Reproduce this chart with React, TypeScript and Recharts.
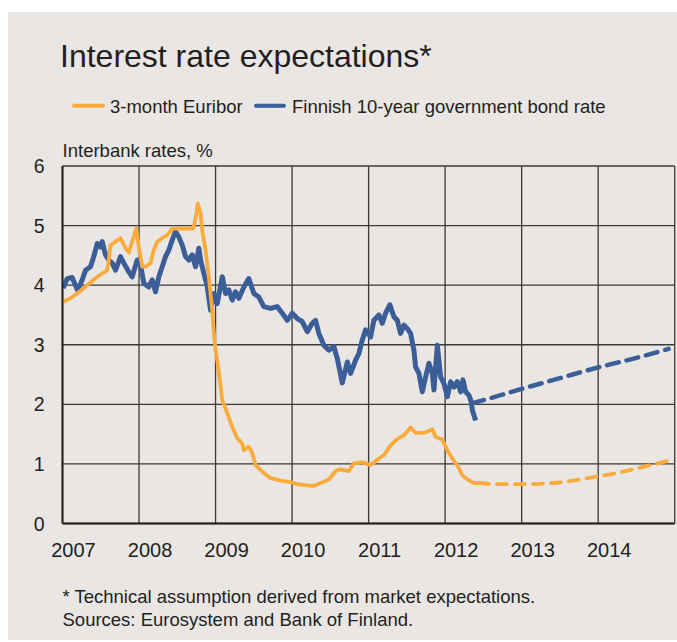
import { LineChart, Line, XAxis, YAxis, CartesianGrid } from "recharts";

const FONT = "'Liberation Sans', Arial, Helvetica, sans-serif";
const INK = "#231f20";
const BG = "#e9e6e3";
const GRID = "#3a3a3a";
const ORANGE = "#fbab3b";
const BLUE = "#3b5e98";

const W = 669;
const H = 628;

// x axis: decimal years, y axis: %
const yearTicks = [2007, 2008, 2009, 2010, 2011, 2012, 2013, 2014, 2015];
const yearLabels = ["2007", "2008", "2009", "2010", "2011", "2012", "2013", "2014"];
const rateTicks = [0, 1, 2, 3, 4, 5, 6];

// 3-month Euribor, actual
const euriborDates = [
  2007.009, 2007.105, 2007.192, 2007.323, 2007.454, 2007.584, 2007.605, 2007.627, 2007.693, 2007.758,
  2007.824, 2007.867, 2007.911, 2007.963, 2007.997, 2008.042, 2008.085, 2008.15, 2008.193, 2008.238,
  2008.303, 2008.369, 2008.434, 2008.542, 2008.63, 2008.708, 2008.739, 2008.769, 2008.804, 2008.826,
  2008.869, 2008.912, 2008.957, 2008.978, 2009.0, 2009.022, 2009.056, 2009.088, 2009.153, 2009.218,
  2009.284, 2009.349, 2009.37, 2009.435, 2009.48, 2009.523, 2009.61, 2009.719, 2009.85, 2009.958,
  2010.068, 2010.199, 2010.285, 2010.373, 2010.481, 2010.569, 2010.634, 2010.742, 2010.808, 2010.918,
  2011.026, 2011.114, 2011.2, 2011.288, 2011.375, 2011.461, 2011.549, 2011.614, 2011.723, 2011.833,
  2011.876, 2011.963, 2012.029, 2012.094, 2012.159, 2012.225, 2012.29, 2012.376, 2012.442,
];
const euriborRates = [
  3.72, 3.78, 3.86, 4.0, 4.14, 4.25, 4.42, 4.67, 4.73, 4.79,
  4.62, 4.55, 4.73, 4.95, 4.64, 4.31, 4.31, 4.37, 4.59, 4.73,
  4.79, 4.84, 4.95, 4.95, 4.95, 4.95, 5.12, 5.37, 5.21, 4.92,
  4.59, 4.14, 3.58, 3.2, 2.91, 2.74, 2.41, 2.07, 1.85, 1.62,
  1.43, 1.34, 1.23, 1.29, 1.18, 0.98, 0.87, 0.76, 0.72, 0.7,
  0.66, 0.64, 0.63, 0.68, 0.74, 0.88, 0.91, 0.88, 1.01, 1.03,
  0.98, 1.07, 1.15, 1.31, 1.42, 1.48, 1.61, 1.52, 1.52, 1.58,
  1.45, 1.41, 1.23, 1.09, 0.98, 0.81, 0.74, 0.68, 0.68,
];

// 3-month Euribor, market expectation
const euriborFcDates = [2012.442, 2012.7, 2013.009, 2013.422, 2013.859, 2014.251, 2014.686, 2014.908];
const euriborFcRates = [0.68, 0.66, 0.66, 0.68, 0.76, 0.85, 0.98, 1.05];

// Finnish 10-year government bond, actual
const bondDates = [
  2007.009, 2007.061, 2007.127, 2007.148, 2007.2, 2007.258, 2007.301, 2007.366, 2007.409, 2007.454,
  2007.497, 2007.519, 2007.562, 2007.605, 2007.65, 2007.693, 2007.758, 2007.801, 2007.854, 2007.911,
  2007.976, 2008.02, 2008.063, 2008.128, 2008.173, 2008.216, 2008.259, 2008.303, 2008.346, 2008.39,
  2008.434, 2008.477, 2008.52, 2008.565, 2008.608, 2008.651, 2008.695, 2008.739, 2008.782, 2008.804,
  2008.847, 2008.892, 2008.935, 2008.978, 2009.022, 2009.088, 2009.131, 2009.174, 2009.218, 2009.261,
  2009.305, 2009.37, 2009.435, 2009.501, 2009.566, 2009.631, 2009.719, 2009.806, 2009.872, 2009.937,
  2010.003, 2010.068, 2010.133, 2010.199, 2010.264, 2010.307, 2010.35, 2010.416, 2010.481, 2010.546,
  2010.591, 2010.656, 2010.722, 2010.765, 2010.83, 2010.873, 2010.918, 2010.961, 2011.026, 2011.069,
  2011.135, 2011.179, 2011.222, 2011.278, 2011.331, 2011.375, 2011.418, 2011.461, 2011.506, 2011.549,
  2011.592, 2011.614, 2011.658, 2011.702, 2011.745, 2011.788, 2011.833, 2011.854, 2011.898, 2011.941,
  2011.984, 2012.029, 2012.072, 2012.115, 2012.159, 2012.203, 2012.233, 2012.268, 2012.312, 2012.342,
  2012.356, 2012.399,
];
const bondRates = [
  3.95, 4.11, 4.13, 4.06, 3.91, 4.09, 4.25, 4.31, 4.48, 4.7,
  4.64, 4.73, 4.51, 4.42, 4.37, 4.25, 4.48, 4.37, 4.25, 4.14,
  4.42, 4.34, 4.03, 3.97, 4.09, 3.89, 4.14, 4.31, 4.48, 4.59,
  4.76, 4.9, 4.81, 4.67, 4.48, 4.42, 4.51, 4.31, 4.62, 4.42,
  4.2, 3.97, 3.58, 3.86, 3.69, 4.14, 3.86, 3.92, 3.75, 3.89,
  3.78, 3.97, 4.11, 3.86, 3.8, 3.64, 3.61, 3.64, 3.53, 3.41,
  3.53, 3.44, 3.39, 3.22, 3.36, 3.41, 3.19, 2.99, 2.91, 2.97,
  2.77, 2.36, 2.71, 2.52, 2.74, 2.85, 3.08, 3.25, 3.13, 3.41,
  3.5, 3.36, 3.53, 3.67, 3.47, 3.41, 3.19, 3.33, 3.27, 3.19,
  2.91, 2.63, 2.52, 2.21, 2.46, 2.69, 2.52, 2.24, 2.99, 2.46,
  2.35, 2.13, 2.38, 2.29, 2.38, 2.21, 2.41, 2.21, 2.15, 2.04,
  1.9, 1.73,
];

// Finnish 10-year government bond, market expectation
const bondFcDates = [2012.356, 2012.5, 2013.0, 2013.5, 2014.0, 2014.5, 2014.92];
const bondFcRates = [2.02, 2.07, 2.26, 2.44, 2.62, 2.78, 2.93];

const toPoints = (ts: number[], vs: number[]) => ts.map((t, i) => ({ t, v: vs[i] }));

const euribor = toPoints(euriborDates, euriborRates);
const euriborFc = toPoints(euriborFcDates, euriborFcRates);
const bond = toPoints(bondDates, bondRates);
const bondFc = toPoints(bondFcDates, bondFcRates);

function YearTick(props: any) {
  const { x, y, payload } = props;
  const i = yearTicks.indexOf(payload.value);
  const label = yearLabels[i];
  if (!label) return null;
  return (
    <text x={x + 11} y={y + 33.5} textAnchor="middle" fontSize={20} fontFamily={FONT} fill={INK}>
      {label}
    </text>
  );
}

function RateTick(props: any) {
  const { x, y, payload } = props;
  return (
    <text x={x - 18} y={y + 7} textAnchor="end" fontSize={19.5} fontFamily={FONT} fill={INK}>
      {payload.value}
    </text>
  );
}

export default function App() {
  return (
    <div
      style={{
        position: "absolute",
        left: 8,
        top: 12,
        width: W,
        height: H,
        background: BG,
        fontFamily: FONT,
      }}
    >
      <LineChart width={W} height={H} margin={{ top: 154, right: 2.3, bottom: 86.5, left: 0.5 }}>
        <CartesianGrid stroke={GRID} strokeWidth={1.3} />
        <XAxis
          dataKey="t"
          type="number"
          domain={[2007, 2015]}
          ticks={yearTicks}
          tick={<YearTick />}
          tickSize={0}
          tickMargin={0}
          tickLine={false}
          axisLine={{ stroke: "#222", strokeWidth: 2 }}
          height={30}
          allowDataOverflow
        />
        <YAxis
          type="number"
          domain={[0, 6]}
          ticks={rateTicks}
          tick={<RateTick />}
          tickSize={0}
          tickMargin={0}
          tickLine={false}
          axisLine={{ stroke: "#222", strokeWidth: 2 }}
          width={54}
        />
        <Line data={bond} dataKey="v" type="linear" stroke={BLUE} strokeWidth={5}
          strokeLinejoin="round" dot={false} isAnimationActive={false} />
        <Line data={bondFc} dataKey="v" type="monotone" stroke={BLUE} strokeWidth={4.5}
          strokeDasharray="12 8" strokeLinecap="round" dot={false} isAnimationActive={false} />
        <Line data={euribor} dataKey="v" type="linear" stroke={ORANGE} strokeWidth={3.8}
          strokeLinejoin="round" dot={false} isAnimationActive={false} />
        <Line data={euriborFc} dataKey="v" type="monotone" stroke={ORANGE} strokeWidth={3.8}
          strokeDasharray="10 8" strokeLinecap="round" dot={false} isAnimationActive={false} />
      </LineChart>

      <svg width={W} height={H} style={{ position: "absolute", left: 0, top: 0, pointerEvents: "none" }}>
        <text x={52} y={54.7} fontSize={32} fontFamily={FONT} fill={INK}>
          Interest rate expectations*
        </text>

        {/* Legend */}
        <line x1={66} y1={93.7} x2={95} y2={93.7} stroke={ORANGE} strokeWidth={4} strokeLinecap="round" />
        <text x={102} y={100.7} fontSize={18.5} fontFamily={FONT} fill={INK}>3-month Euribor</text>
        <line x1={248} y1={93.7} x2={276} y2={93.7} stroke={BLUE} strokeWidth={4} strokeLinecap="round" />
        <text x={284} y={100.7} fontSize={18.5} fontFamily={FONT} fill={INK}>
          Finnish 10-year government bond rate
        </text>

        <text x={54.6} y={145} fontSize={18.5} fontFamily={FONT} fill={INK}>Interbank rates, %</text>

        <text x={54.5} y={591.3} fontSize={18.5} fontFamily={FONT} fill={INK}>
          * Technical assumption derived from market expectations.
        </text>
        <text x={54.5} y={613.7} fontSize={18.5} fontFamily={FONT} fill={INK}>
          Sources: Eurosystem and Bank of Finland.
        </text>
      </svg>
    </div>
  );
}
